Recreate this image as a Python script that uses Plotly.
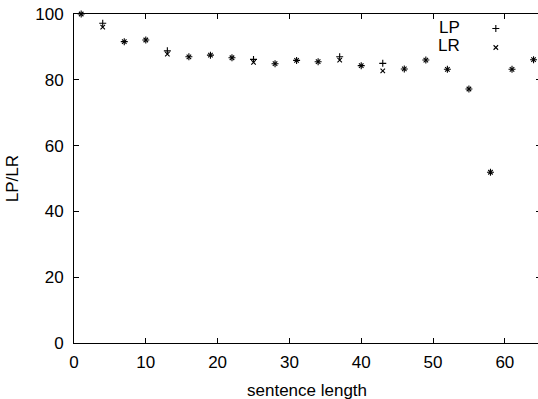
import plotly.graph_objects as go

sentence_length = [1, 4, 7, 10, 13, 16, 19, 22, 25, 28, 31, 34, 37, 40, 43, 46, 49, 52, 55, 58, 61, 64]
lp_values = [100, 97.2, 91.6, 92.1, 88.8, 87.0, 87.5, 86.7, 86.2, 84.9, 85.9, 85.5, 87.0, 84.3, 85.0, 83.3, 86.0, 83.2, 77.2, 51.9, 83.2, 86.1]
lr_values = [100, 96.0, 91.6, 92.1, 87.8, 87.0, 87.5, 86.7, 85.3, 84.9, 85.9, 85.5, 86.0, 84.3, 82.7, 83.3, 86.0, 83.2, 77.2, 51.9, 83.2, 86.1]
x_ticks = [0, 10, 20, 30, 40, 50, 60]
y_ticks = [0, 20, 40, 60, 80, 100]

FONT = "Liberation Sans, Arial, Helvetica, sans-serif"

fig = go.Figure()
fig.add_trace(go.Scatter(
    x=sentence_length, y=lp_values, mode="markers", name=" ",
    marker=dict(symbol="cross-thin-open", size=5, color="black",
                line=dict(color="black", width=1.1)),
    cliponaxis=False,
))
fig.add_trace(go.Scatter(
    x=sentence_length, y=lr_values, mode="markers", name=" ",
    marker=dict(symbol="x-thin-open", size=4.5, color="black",
                line=dict(color="black", width=1.1)),
    cliponaxis=False,
))
# dummy trace to attach right-side mirrored tick marks
fig.add_trace(go.Scatter(x=[None], y=[None], yaxis="y2", showlegend=False))

fig.update_layout(
    width=538, height=399,
    margin=dict(l=74, r=0, t=14, b=56, autoexpand=False),
    paper_bgcolor="white", plot_bgcolor="white",
    font=dict(family=FONT, size=17, color="black"),
    showlegend=True,
    legend=dict(x=0.866, y=1.0, xanchor="left", yanchor="top",
                bgcolor="rgba(0,0,0,0)", font=dict(size=11.5),
                tracegroupgap=0, itemwidth=30),
    xaxis=dict(range=[0, 64.62], tickvals=x_ticks, ticks="inside", ticklen=5,
               tickcolor="black", showline=True, linecolor="black", linewidth=1,
               mirror="ticks", showgrid=False, zeroline=False, automargin=False,
               ticklabelstandoff=4),
    yaxis=dict(range=[0, 100], tickvals=y_ticks, ticks="inside", ticklen=5,
               tickcolor="black", showline=True, linecolor="black", linewidth=1,
               showgrid=False, zeroline=False, automargin=False,
               ticklabelstandoff=6),
    yaxis2=dict(range=[0, 100], overlaying="y", side="right", tickvals=y_ticks,
                ticks="inside", ticklen=2, tickcolor="black", showline=False,
                showticklabels=False, showgrid=False, zeroline=False,
                automargin=False),
    annotations=[
        dict(text="LP", xref="paper", yref="paper", x=0.836, y=0.958,
             xanchor="right", yanchor="middle", showarrow=False,
             font=dict(size=17)),
        dict(text="LR", xref="paper", yref="paper", x=0.836, y=0.904,
             xanchor="right", yanchor="middle", showarrow=False,
             font=dict(size=17)),
        dict(text="sentence length", xref="paper", yref="paper", x=0.502, y=-0.143,
             xanchor="center", yanchor="middle", showarrow=False,
             font=dict(size=17)),
        dict(text="LP/LR", xref="paper", yref="paper", x=-0.132, y=0.5,
             xanchor="center", yanchor="middle", showarrow=False, textangle=-90,
             font=dict(size=17)),
    ],
)

fig.write_html("out.html", config={"displayModeBar": False},
               post_script="document.body.style.margin='0';")
